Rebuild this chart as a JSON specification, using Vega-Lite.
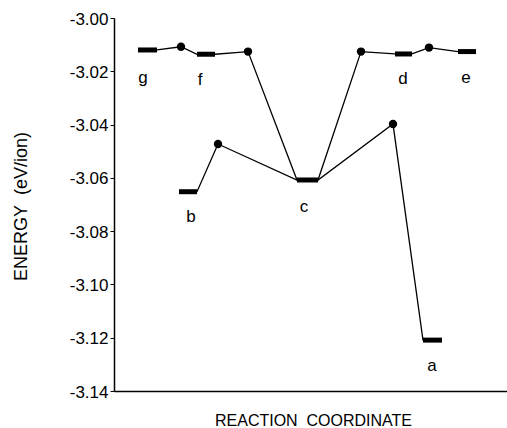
{
  "$schema": "https://vega.github.io/schema/vega-lite/v6.json",
  "width": 393,
  "height": 373,
  "autosize": {"type": "none"},
  "padding": {"left": 114, "top": 18, "right": 0, "bottom": 37},
  "background": "white",
  "config": {
    "view": {"stroke": null},
    "font": "Liberation Sans",
    "axis": {"labelFont": "Liberation Sans", "titleFont": "Liberation Sans", "domainColor": "black", "tickColor": "black", "labelColor": "black", "titleColor": "black", "grid": false}
  },
  "datasets": {
    "path": [
      {"series": "upper", "x": 24, "energy": -3.012},
      {"series": "upper", "x": 43, "energy": -3.012},
      {"series": "upper", "x": 67, "energy": -3.0108},
      {"series": "upper", "x": 83, "energy": -3.0136},
      {"series": "upper", "x": 101, "energy": -3.0136},
      {"series": "upper", "x": 134, "energy": -3.0126},
      {"series": "upper", "x": 183, "energy": -3.0608},
      {"series": "upper", "x": 204, "energy": -3.0608},
      {"series": "upper", "x": 247, "energy": -3.0126},
      {"series": "upper", "x": 281, "energy": -3.0135},
      {"series": "upper", "x": 298, "energy": -3.0135},
      {"series": "upper", "x": 315, "energy": -3.0111},
      {"series": "upper", "x": 344, "energy": -3.0126},
      {"series": "upper", "x": 362, "energy": -3.0126},
      {"series": "lower", "x": 65, "energy": -3.0652},
      {"series": "lower", "x": 83, "energy": -3.0652},
      {"series": "lower", "x": 104, "energy": -3.0473},
      {"series": "lower", "x": 183, "energy": -3.0608},
      {"series": "lower", "x": 204, "energy": -3.0608},
      {"series": "lower", "x": 279, "energy": -3.0398},
      {"series": "lower", "x": 309, "energy": -3.1209},
      {"series": "lower", "x": 328, "energy": -3.1209}
    ],
    "bars": [
      {"state": "g", "x1": 24, "x2": 43, "energy": -3.012},
      {"state": "f", "x1": 83, "x2": 101, "energy": -3.0136},
      {"state": "b", "x1": 65, "x2": 83, "energy": -3.0652},
      {"state": "c", "x1": 183, "x2": 204, "energy": -3.0608},
      {"state": "d", "x1": 281, "x2": 298, "energy": -3.0135},
      {"state": "e", "x1": 344, "x2": 362, "energy": -3.0126},
      {"state": "a", "x1": 309, "x2": 328, "energy": -3.1209}
    ],
    "saddles": [
      {"x": 67, "energy": -3.0108},
      {"x": 134, "energy": -3.0126},
      {"x": 247, "energy": -3.0126},
      {"x": 315, "energy": -3.0111},
      {"x": 104, "energy": -3.0473},
      {"x": 279, "energy": -3.0398}
    ],
    "labels": [
      {"text": "g", "x": 29, "energy": -3.0244},
      {"text": "f", "x": 86, "energy": -3.0252},
      {"text": "d", "x": 289, "energy": -3.0248},
      {"text": "e", "x": 352, "energy": -3.0244},
      {"text": "b", "x": 77, "energy": -3.0765},
      {"text": "c", "x": 190, "energy": -3.0727},
      {"text": "a", "x": 318, "energy": -3.1324}
    ]
  },
  "layer": [
    {
      "mark": {"type": "rule", "color": "black", "strokeWidth": 1.5},
      "encoding": {"y": {"datum": -3.0, "type": "quantitative"}}
    },
    {
      "data": {"name": "path"},
      "mark": {"type": "line", "color": "black", "strokeWidth": 1.3},
      "encoding": {
        "x": {
          "field": "x", "type": "quantitative",
          "scale": {"domain": [0, 393], "nice": false, "zero": false},
          "axis": {"title": "REACTION\u00a0 COORDINATE", "labels": false, "ticks": false, "domainWidth": 1.5, "titleFontSize": 16, "titleFontWeight": "normal", "titleX": 199, "titleY": 34, "titleBaseline": "alphabetic", "titleAnchor": null, "titleAlign": "center"}
        },
        "y": {
          "field": "energy", "type": "quantitative",
          "scale": {"domain": [-3.14, -3.0], "nice": false, "zero": false},
          "axis": {
            "title": "ENERGY\u00a0 (eV/ion)",
            "values": [-3.14, -3.13, -3.12, -3.11, -3.1, -3.09, -3.08, -3.07, -3.06, -3.05, -3.04, -3.03, -3.02, -3.01, -3.0],
            "labelExpr": "round(datum.value*100) % 2 == 0 ? '-' + format(abs(datum.value), '.2f') : ''",
            "tickSize": {"condition": {"test": "round(datum.value*100) % 2 != 0", "value": 2}, "value": 4},
            "labelFontSize": 17,
            "labelPadding": 2,
            "labelOffset": 1,
            "domainWidth": 1.5,
            "titleFontSize": 18,
            "titleFontWeight": "normal",
            "titleAngle": -90,
            "titleX": -93,
            "titleY": 188,
            "titleAlign": "center",
            "titleBaseline": "middle"
          }
        },
        "detail": {"field": "series"}
      }
    },
    {
      "data": {"name": "bars"},
      "mark": {"type": "rule", "color": "black", "strokeWidth": 5, "strokeCap": "butt"},
      "encoding": {
        "x": {"field": "x1", "type": "quantitative"},
        "x2": {"field": "x2"},
        "y": {"field": "energy", "type": "quantitative"}
      }
    },
    {
      "data": {"name": "saddles"},
      "mark": {"type": "point", "filled": true, "color": "black", "opacity": 1, "size": 70},
      "encoding": {
        "x": {"field": "x", "type": "quantitative"},
        "y": {"field": "energy", "type": "quantitative"}
      }
    },
    {
      "data": {"name": "labels"},
      "mark": {"type": "text", "fontSize": 17, "color": "black", "baseline": "alphabetic", "align": "center", "font": "Liberation Sans"},
      "encoding": {
        "x": {"field": "x", "type": "quantitative"},
        "y": {"field": "energy", "type": "quantitative"},
        "text": {"field": "text"}
      }
    }
  ]
}
